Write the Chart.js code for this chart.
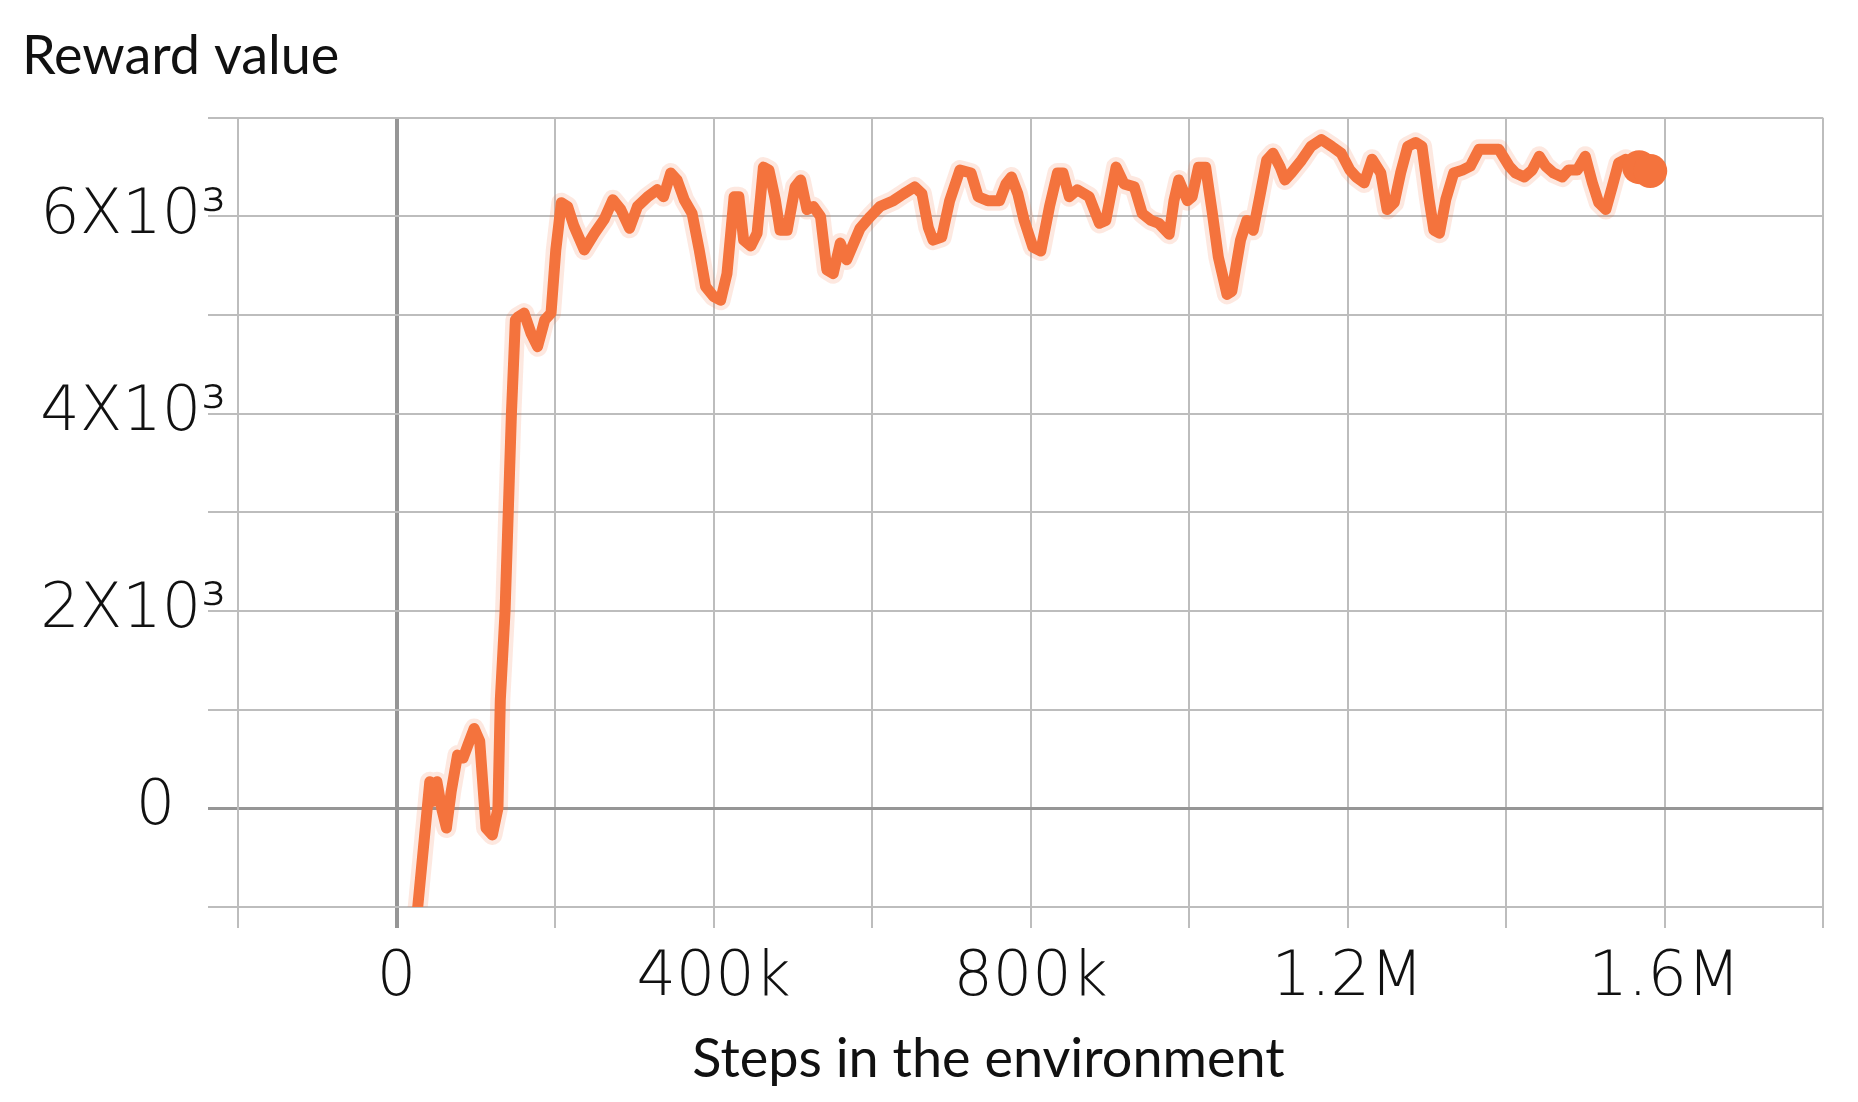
<!DOCTYPE html>
<html>
<head>
<meta charset="utf-8">
<script src="https://cdn.jsdelivr.net/npm/chart.js@4.4.1/dist/chart.umd.min.js"></script>
<style>
  html, body { margin: 0; padding: 0; background: #fff; }
  canvas { display: block; }
</style>
</head>
<body>
<canvas id="rewardChart" width="1858" height="1102"></canvas>
<script>
// environment steps and reward
const steps = [
  22000, 42000, 46000, 51000, 57000, 63000, 69000, 77000, 84000, 90000,
  98000, 105000, 113000, 121000, 128000, 131000, 137000, 145000, 150000, 153000,
  161000, 170000, 178000, 187000, 195000, 201000, 208000, 216000, 224000, 237000,
  250000, 262000, 273000, 283000, 294000, 304000, 317000, 329000, 337000, 346000,
  354000, 363000, 373000, 382000, 390000, 400000, 409000, 417000, 426000, 432000,
  438000, 447000, 455000, 463000, 470000, 478000, 484000, 493000, 503000, 510000,
  518000, 526000, 535000, 543000, 551000, 560000, 568000, 577000, 585000, 598000,
  610000, 627000, 640000, 654000, 663000, 671000, 677000, 688000, 698000, 711000,
  725000, 734000, 746000, 761000, 769000, 776000, 784000, 792000, 803000, 813000,
  824000, 834000, 841000, 849000, 859000, 874000, 887000, 895000, 908000, 918000,
  931000, 941000, 952000, 962000, 975000, 981000, 987000, 998000, 1004000, 1012000,
  1021000, 1029000, 1037000, 1048000, 1054000, 1065000, 1073000, 1081000, 1090000, 1098000,
  1106000, 1115000, 1121000, 1129000, 1142000, 1154000, 1167000, 1180000, 1192000, 1203000,
  1211000, 1221000, 1231000, 1242000, 1250000, 1259000, 1267000, 1276000, 1286000, 1294000,
  1303000, 1309000, 1316000, 1324000, 1334000, 1345000, 1355000, 1366000, 1379000, 1391000,
  1404000, 1412000, 1423000, 1433000, 1442000, 1450000, 1460000, 1471000, 1479000, 1490000,
  1500000, 1509000, 1517000, 1526000, 1534000, 1542000, 1551000, 1568000, 1582000
];
const reward = [
  -1400, 270, 70, 270, 0, -200, 170, 540, 510, 640,
  810, 680, -200, -270, 0, 1100, 2000, 4000, 4950, 4980,
  5020, 4810, 4680, 4950, 5020, 5660, 6140, 6100, 5900, 5660,
  5830, 5970, 6170, 6070, 5880, 6100, 6200, 6270, 6200, 6440,
  6370, 6170, 6030, 5660, 5290, 5190, 5150, 5420, 6200, 6200,
  5760, 5700, 5830, 6500, 6470, 6170, 5860, 5860, 6300, 6370,
  6070, 6100, 6000, 5460, 5420, 5730, 5560, 5730, 5880, 6000,
  6100, 6160, 6230, 6300, 6230, 5890, 5760, 5790, 6160, 6470,
  6440, 6200, 6160, 6160, 6330, 6400, 6230, 5960, 5690, 5650,
  6100, 6440, 6440, 6200, 6270, 6200, 5930, 5960, 6500, 6330,
  6300, 6030, 5960, 5930, 5820, 6160, 6370, 6160, 6200, 6500,
  6500, 6060, 5590, 5210, 5240, 5760, 5960, 5860, 6230, 6570,
  6640, 6500, 6370, 6440, 6570, 6710, 6780, 6710, 6640, 6470,
  6400, 6340, 6580, 6440, 6070, 6140, 6440, 6710, 6750, 6710,
  6170, 5860, 5830, 6170, 6440, 6470, 6510, 6680, 6680, 6680,
  6510, 6440, 6400, 6470, 6610, 6510, 6440, 6400, 6470, 6470,
  6610, 6340, 6140, 6070, 6300, 6540, 6580, 6500, 6460
];

const yTickLabels = { '0': '0 \u2002', '2000': '2X10³', '4000': '4X10³', '6000': '6X10³' };
const xTickLabels = { '0': '0', '400000': '400k', '800000': '800k', '1200000': '1.2M', '1600000': '1.6M' };
const xTitle = 'Steps in the environment';

const lineColor = '#f4733d';
const gridColor = '#bdbdbd';
const zeroColor = '#969696';
const tickFont = { family: 'DejaVu Sans', size: 62, weight: '200' };

const points = steps.map((s, i) => ({ x: s, y: reward[i] }));

// x axis title sits a little left of the plot centre in the original
const xTitlePlugin = {
    id: 'xTitle',
    afterDraw(chart) {
        const c = chart.ctx;
        const area = chart.chartArea;
        c.save();
        c.font = '54px Lato';
        c.fillStyle = '#111';
        c.textAlign = 'center';
        c.textBaseline = 'middle';
        c.fillText(xTitle, (area.left + area.right) / 2 - 42, 1060);
        c.restore();
    }
};

const ctx = document.getElementById('rewardChart').getContext('2d');
const rewardChart = new Chart(ctx, {
    type: 'line',
    data: {
        datasets: [{
            data: points,
            borderColor: lineColor,
            backgroundColor: lineColor,
            borderWidth: 11,
            borderJoinStyle: 'round',
            borderCapStyle: 'round',
            tension: 0,
            clip: 0,
            pointRadius: c => c.dataIndex >= points.length - 2 ? 17 : 0,
            pointBorderWidth: 0,
            fill: false,
        }, {
            data: points,
            borderColor: 'rgba(244, 115, 61, 0.16)',
            borderWidth: 20,
            borderJoinStyle: 'round',
            tension: 0,
            clip: 0,
            pointRadius: 0,
            fill: false,
        }]
    },
    plugins: [xTitlePlugin],
    options: {
        responsive: false,
        animation: false,
        devicePixelRatio: 1,
        layout: { padding: { left: 22, right: 35, top: 0, bottom: 0 } },
        plugins: {
            legend: { display: false },
            tooltip: { enabled: false },
            title: {
                display: true,
                text: 'Reward value',
                align: 'start',
                color: '#111',
                font: { family: 'Lato', size: 54, weight: 'normal', lineHeight: 1.2 },
                padding: { top: 24, bottom: 29 }
            }
        },
        scales: {
            x: {
                type: 'linear',
                min: -200000,
                max: 1800000,
                afterFit: s => { s.height = 195; },
                grid: {
                    color: c => c.tick && c.tick.value === 0 ? zeroColor : gridColor,
                    lineWidth: c => c.tick && c.tick.value === 0 ? 4 : 2,
                    tickLength: 21,
                },
                border: { color: gridColor, width: 2 },
                ticks: {
                    stepSize: 200000,
                    autoSkip: false,
                    maxRotation: 0,
                    padding: 14,
                    color: '#111',
                    font: tickFont,
                    callback: v => xTickLabels[v] || ''
                }
            },
            y: {
                min: -1000,
                max: 7000,
                afterFit: s => { s.width = 216; },
                grid: {
                    color: c => c.tick && c.tick.value === 0 ? zeroColor : gridColor,
                    lineWidth: c => c.tick && c.tick.value === 0 ? 3 : 2,
                    tickLength: 30,
                },
                border: { color: gridColor, width: 2 },
                ticks: {
                    stepSize: 1000,
                    autoSkip: false,
                    padding: -18,
                    color: '#111',
                    font: tickFont,
                    callback: v => yTickLabels[v] || ''
                }
            }
        }
    }
});
</script>
</body>
</html>
